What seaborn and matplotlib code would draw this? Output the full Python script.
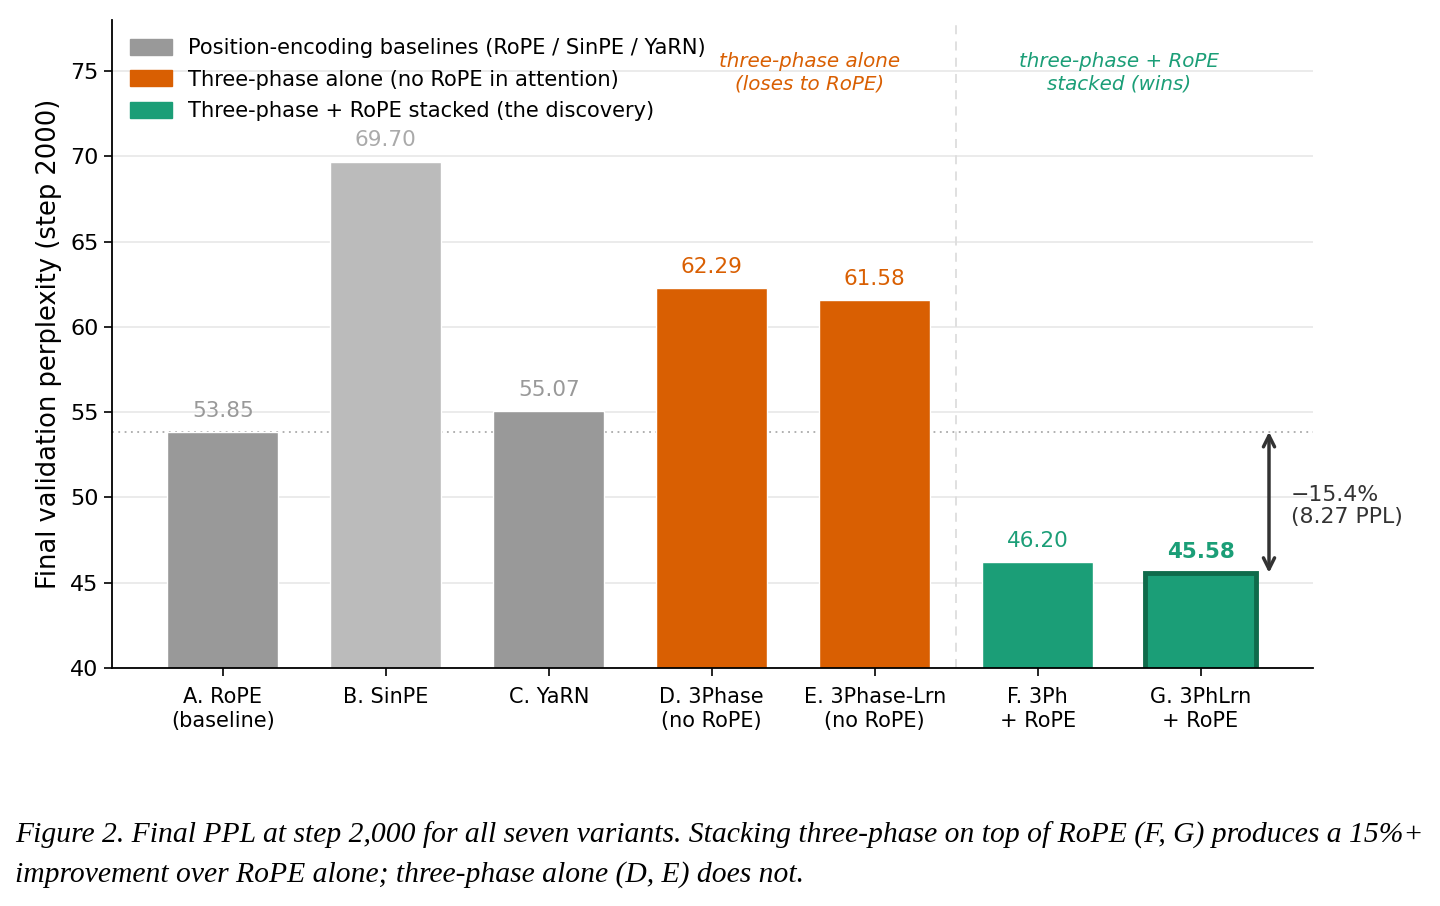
import matplotlib
matplotlib.use("Agg")
import matplotlib.pyplot as plt
import matplotlib.patches as mpatches
import seaborn as sns
import pandas as pd

labels = ["A. RoPE\n(baseline)", "B. SinPE", "C. YaRN", "D. 3Phase\n(no RoPE)",
          "E. 3Phase-Lrn\n(no RoPE)", "F. 3Ph\n+ RoPE", "G. 3PhLrn\n+ RoPE"]
values = [53.85, 69.70, 55.07, 62.29, 61.58, 46.20, 45.58]
bar_colors = ["#999999", "#bbbbbb", "#999999", "#d95f02", "#d95f02", "#1b9e77", "#1b9e77"]
label_colors = ["#999999", "#aaaaaa", "#999999", "#d95f02", "#d95f02", "#1b9e77", "#1b9e77"]
legend_labels = ["Position-encoding baselines (RoPE / SinPE / YaRN)",
                 "Three-phase alone (no RoPE in attention)",
                 "Three-phase + RoPE stacked (the discovery)"]
legend_colors = ["#999999", "#d95f02", "#1b9e77"]
baseline = 53.85
best = 45.58

sns.set_theme(style="white")
plt.rcParams['font.family'] = ['DejaVu Sans']
plt.rcParams['text.color'] = 'black'
plt.rcParams['axes.labelcolor'] = 'black'
plt.rcParams['xtick.color'] = 'black'
plt.rcParams['ytick.color'] = 'black'

df = pd.DataFrame({"variant": labels, "ppl": values})

fig = plt.figure(figsize=(14.4, 9.06), dpi=100)
ax = fig.add_axes([112/1440, 1-668/906, (1313-112)/1440, (668-20)/906])

sns.barplot(data=df, x="variant", y="ppl", hue="variant", palette=bar_colors,
            dodge=False, legend=False, width=0.68, ax=ax, saturation=1, zorder=2)

# highlight last bar
p = ax.patches[-1]
p.set_edgecolor("#0f6b4b")
p.set_linewidth(3.5)

ax.set_ylim(40, 78)
ax.set_xlim(-0.68, 6.69)
ax.set_yticks([40, 45, 50, 55, 60, 65, 70, 75])
ax.yaxis.grid(True, color="#e8e8e8", linewidth=1.2, zorder=0)
ax.set_axisbelow(True)
for s in ["top", "right"]:
    ax.spines[s].set_visible(False)
for s in ["left", "bottom"]:
    ax.spines[s].set_color("#000000")
    ax.spines[s].set_linewidth(1.3)
ax.tick_params(axis="both", which="both", length=6, width=1.2, color="#000000",
               left=True, bottom=True, labelsize=16, labelcolor="black")
ax.tick_params(axis="x", labelsize=15, pad=8)
ax.set_xlabel("")
ax.set_ylabel("Final validation perplexity (step 2000)", fontsize=18.5, labelpad=6,
              color="black")

for i, (v, c) in enumerate(zip(values, label_colors)):
    ax.annotate(f"{v:.2f}", (i, v), xytext=(0, 8), textcoords="offset points",
                ha="center", va="bottom", color=c, fontsize=15.5,
                fontweight="bold" if i == 6 else "normal")

ax.axhline(baseline, color="#aaaaaa", linestyle=(0, (1, 2.5)), linewidth=1.3, zorder=1)
ax.axvline(4.5, color="#dddddd", linestyle=(0, (5, 4)), linewidth=1.3, zorder=1)

ax.text(3.6, 74.9, "three-phase alone\n(loses to RoPE)", color="#d95f02", fontstyle="italic",
        ha="center", va="center", fontsize=14.3, linespacing=1.2)
ax.text(5.5, 74.9, "three-phase + RoPE\nstacked (wins)", color="#1b9e77", fontstyle="italic",
        ha="center", va="center", fontsize=14.3, linespacing=1.2)

ax.annotate("", xy=(6.42, best), xytext=(6.42, baseline),
            arrowprops=dict(arrowstyle="<->", color="#333333", lw=2.5, mutation_scale=20,
                            shrinkA=0, shrinkB=0))
ax.text(6.555, 49.5, "\u221215.4%\n(8.27 PPL)", color="#333333", ha="left", va="center",
        fontsize=15.8, linespacing=1.1)

handles = [mpatches.Patch(color=c, label=l) for c, l in zip(legend_colors, legend_labels)]
ax.legend(handles=handles, loc="upper left", bbox_to_anchor=(0.0, 1.0), frameon=False,
          fontsize=15.1, handlelength=2.0, handleheight=0.8, handletextpad=0.75,
          labelspacing=0.56, borderaxespad=0.45, labelcolor="black")

fig.text(15/1440, 1-835/906,
         "Figure 2. Final PPL at step 2,000 for all seven variants. Stacking three-phase on top of RoPE (F, G) produces a 15%+",
         fontfamily="Liberation Serif", fontstyle="italic", fontsize=21.3, ha="left", va="center",
         color="black")
fig.text(15/1440, 1-875/906,
         "improvement over RoPE alone; three-phase alone (D, E) does not.",
         fontfamily="Liberation Serif", fontstyle="italic", fontsize=21.3, ha="left", va="center",
         color="black")

fig.savefig("out.png", dpi=100)
